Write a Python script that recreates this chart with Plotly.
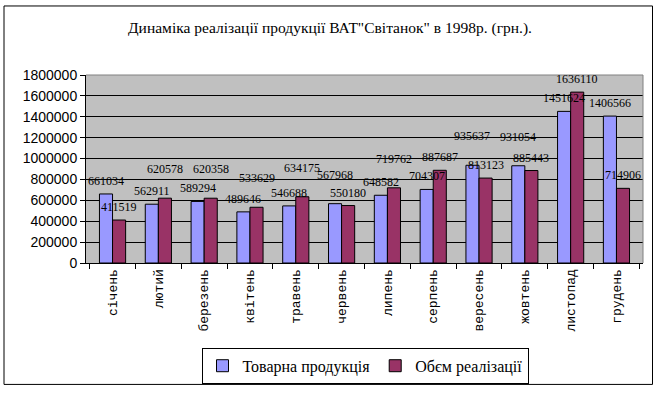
import plotly.graph_objects as go

months = ["січень", "лютий", "березень", "квітень", "травень", "червень",
          "липень", "серпень", "вересень", "жовтень", "листопад", "грудень"]
tovarna = [661034, 562911, 589294, 489646, 546688, 567968,
           648582, 704307, 935637, 931054, 1451624, 1406566]
realiz = [411519, 620578, 620358, 533629, 634175, 550180,
          719762, 887687, 813123, 885443, 1636110, 714906]
series_names = ["Товарна продукція", "Обєм реалізації"]
y_ticks = list(range(0, 1800001, 200000))

W, H = 659, 396
L, R, T, B = 86, 643, 75, 267
BARGAP = 1.5 / 3.5

fig = go.Figure()
for name, vals, col in [(series_names[0], tovarna, "#9999FF"),
                        (series_names[1], realiz, "#993366")]:
    fig.add_trace(go.Bar(
        x=months, y=vals, name=name,
        marker=dict(color=col, line=dict(color="black", width=1)),
    ))

# data labels: placed above each bar; when the pair's labels would collide,
# the higher one is lifted one line (as in the original Excel chart)
bar_w = (1 - BARGAP) / 2
annotations = []
for i in range(len(months)):
    a, b = tovarna[i], realiz[i]
    close = abs(a - b) < 150000
    for k, v in enumerate((a, b)):
        other = b if k == 0 else a
        lift = close and v > other
        annotations.append(dict(
            x=i + (k - 0.5) * bar_w, y=v, xref="x", yref="y",
            text=str(v), showarrow=False, xanchor="center", yanchor="middle",
            yshift=29 if lift else 13,
            font=dict(family="Liberation Serif", size=12, color="black"),
        ))

def px(x):
    return (x - L) / (R - L)

def py(y):
    return (B - y) / (B - T)

fig.update_layout(
    width=W, height=H,
    margin=dict(l=L, r=W - R, t=T, b=H - B),
    paper_bgcolor="white", plot_bgcolor="#C0C0C0",
    barmode="group", bargap=BARGAP, bargroupgap=0,
    annotations=annotations,
    title=dict(text='Динаміка реалізації продукції ВАТ"Світанок" в 1998р. (грн.).',
               x=330 / W, xanchor="center", y=1 - 28 / H, yanchor="middle",
               font=dict(family="Liberation Serif", size=15.5, color="black")),
    legend=dict(orientation="h", x=px(365), xanchor="center", y=py(372), yanchor="middle",
                bordercolor="black", borderwidth=1, bgcolor="white",
                font=dict(family="Liberation Serif", size=16, color="black"),
                itemwidth=30, tracegroupgap=0),
    showlegend=True,
    shapes=[
        dict(type="rect", xref="paper", yref="paper",
             x0=px(4), x1=px(652.5), y0=py(4.5), y1=py(391),
             line=dict(color="black", width=1), fillcolor="rgba(0,0,0,0)", layer="below"),
        dict(type="line", xref="paper", yref="paper", x0=0, x1=1, y0=1, y1=1,
             line=dict(color="#808080", width=1)),
        dict(type="line", xref="paper", yref="paper", x0=1, x1=1, y0=0, y1=1,
             line=dict(color="#808080", width=1)),
    ],
)

fig.update_xaxes(
    type="category", tickangle=-90, tickson="boundaries",
    ticks="outside", ticklen=5, tickcolor="black",
    showline=True, linecolor="black", linewidth=1,
    showgrid=False, automargin=False,
    tickfont=dict(family="Liberation Mono", size=13, color="black"),
)
fig.update_yaxes(
    range=[0, 1800000], tickvals=y_ticks, ticktext=[str(v) for v in y_ticks],
    ticksuffix="\u00a0\u00a0",
    ticks="outside", ticklen=5, tickcolor="black",
    showline=True, linecolor="black", linewidth=1,
    showgrid=True, gridcolor="black", gridwidth=1, zeroline=False,
    automargin=False,
    tickfont=dict(family="Liberation Sans", size=14, color="black"),
)
fig.write_html("out.html", config={"displayModeBar": False},
               post_script="document.body.style.margin='0';")
